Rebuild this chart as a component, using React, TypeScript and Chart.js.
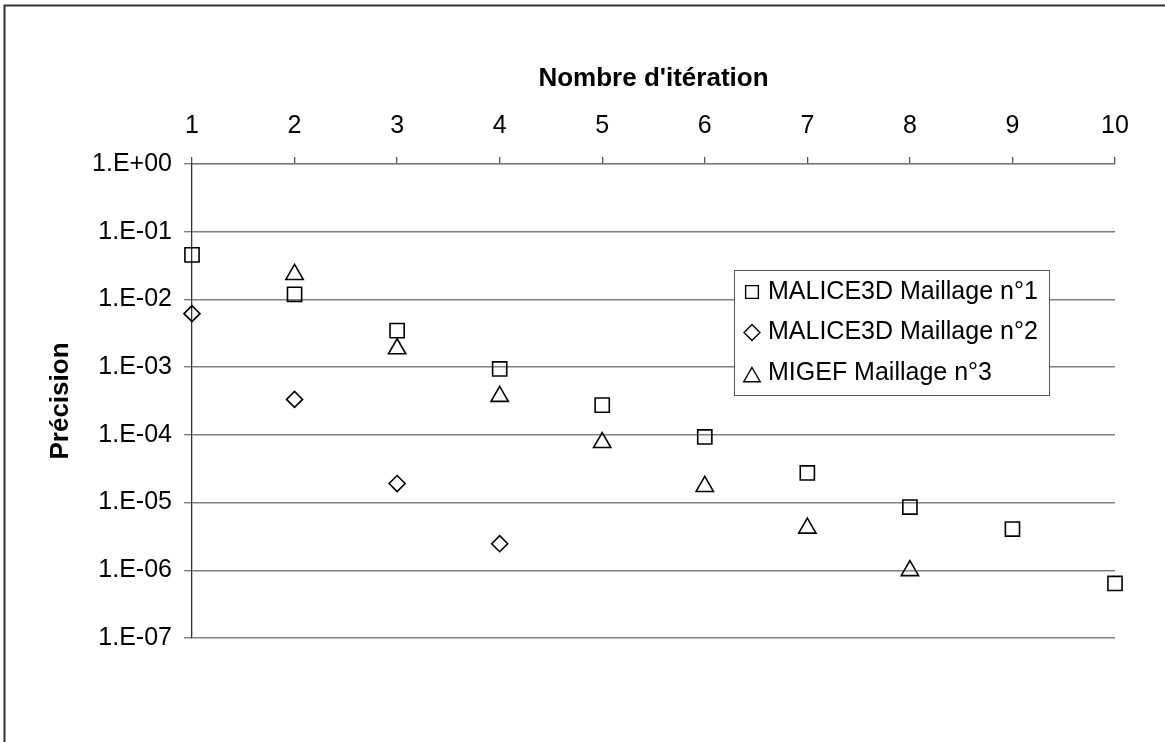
import React, { useEffect, useRef } from 'react';
import { Chart, registerables } from 'chart.js';
import { drawPoint } from 'chart.js/helpers';

Chart.register(...registerables);

const iterations = [1, 2, 3, 4, 5, 6, 7, 8, 9, 10];
const maillage1 = [0.0455, 0.0119, 0.00346, 0.00094, 0.000275, 0.000093, 0.0000274, 0.0000086, 0.00000407, 0.00000064];
const maillage2Iter = [1, 2, 3, 4];
const maillage2 = [0.00617, 0.000334, 0.0000191, 0.00000247];
const maillage3Iter = [2, 3, 4, 5, 6, 7, 8];
const maillage3 = [0.0234, 0.00187, 0.00037, 0.000077, 0.0000173, 0.0000042, 0.00000099];
const seriesLabels = ['MALICE3D Maillage n°1', 'MALICE3D Maillage n°2', 'MIGEF Maillage n°3'];
const yTickValues = [1, 1e-1, 1e-2, 1e-3, 1e-4, 1e-5, 1e-6, 1e-7];
const xTitle = "Nombre d'itération";
const yTitle = 'Précision';

const FONT = "'Liberation Sans', Arial, sans-serif";

function formatExp(v: number): string {
  const e = Math.round(Math.log10(v));
  const sign = e < 0 ? '-' : '+';
  return `1.E${sign}${String(Math.abs(e)).padStart(2, '0')}`;
}

const framePlugin = {
  id: 'frame',
  beforeDraw(chart: any) {
    const ctx = chart.ctx;
    ctx.save();
    ctx.fillStyle = '#ffffff';
    ctx.fillRect(0, 0, chart.width, chart.height);
    ctx.strokeStyle = '#333333';
    ctx.lineWidth = 2;
    ctx.strokeRect(4.5, 5.5, chart.width + 100, chart.height + 100);
    ctx.restore();
  },
};

const legendPlugin = {
  id: 'boxLegend',
  afterDraw(chart: any) {
    const ctx = chart.ctx;
    const bx = 734, by = 270, bw = 315, bh = 125;
    ctx.save();
    ctx.fillStyle = '#ffffff';
    ctx.fillRect(bx, by, bw, bh);
    ctx.strokeStyle = '#555555';
    ctx.lineWidth = 1;
    ctx.strokeRect(bx + 0.5, by + 0.5, bw, bh);
    chart.data.datasets.forEach((ds: any, i: number) => {
      const cy = 292 + i * 40.5;
      ctx.strokeStyle = '#000000';
      ctx.fillStyle = 'rgba(0,0,0,0)';
      ctx.lineWidth = 1.4;
      const r = ds.pointStyle === 'rect' ? 9 : ds.pointStyle === 'triangle' ? 9.5 : 8;
      drawPoint(ctx, { pointStyle: ds.pointStyle, radius: r, borderWidth: 1.4, rotation: 0 } as any, 752, cy + (ds.pointStyle === 'triangle' ? 4 : 0));
      ctx.fillStyle = '#000000';
      ctx.font = `25px ${FONT}`;
      ctx.textBaseline = 'middle';
      ctx.textAlign = 'left';
      ctx.fillText(ds.label, 768, cy);
    });
    ctx.restore();
  },
};

export default function App() {
  const canvasRef = useRef<HTMLCanvasElement | null>(null);

  useEffect(() => {
    if (!canvasRef.current) return;
    const mk = (xs: number[], ys: number[]) => xs.map((x, i) => ({ x, y: ys[i] }));
    const common = {
      showLine: false,
      borderColor: '#000000',
      backgroundColor: 'rgba(0,0,0,0)',
      pointBorderColor: '#000000',
      pointBackgroundColor: 'rgba(0,0,0,0)',
      pointBorderWidth: 1.6,
      clip: false as any,
    };
    const chart = new Chart(canvasRef.current, {
      type: 'scatter',
      data: {
        datasets: [
          { ...common, label: seriesLabels[0], data: mk(iterations, maillage1), pointStyle: 'rect', pointRadius: 10 },
          { ...common, label: seriesLabels[1], data: mk(maillage2Iter, maillage2), pointStyle: 'rectRot', pointRadius: 8 },
          { ...common, label: seriesLabels[2], data: mk(maillage3Iter, maillage3), pointStyle: 'triangle', pointRadius: 10 },
        ] as any,
      },
      options: {
        responsive: false,
        animation: false,
        devicePixelRatio: 1,
        layout: { padding: { left: 0, top: 0, right: 50, bottom: 104 } },
        plugins: {
          legend: { display: false },
          tooltip: { enabled: false },
        },
        scales: {
          x: {
            type: 'linear',
            position: 'top',
            min: 1,
            max: 10,
            ticks: {
              stepSize: 1,
              color: '#000000',
              font: { family: FONT, size: 25 },
              padding: 16,
              maxRotation: 0,
            },
            grid: {
              drawOnChartArea: false,
              drawTicks: true,
              tickLength: 7,
              color: '#555555',
              lineWidth: 1.3,
            },
            border: { display: true, color: '#777777', width: 1.3 },
            title: {
              display: true,
              text: xTitle,
              color: '#000000',
              font: { family: FONT, size: 26, weight: 'bold' },
              padding: { top: 63, bottom: 0 },
            },
            afterFit(scale: any) {
              scale.height = 164;
            },
          },
          y: {
            type: 'logarithmic',
            position: 'left',
            min: 1e-7,
            max: 1,
            afterBuildTicks(scale: any) {
              scale.ticks = yTickValues.map((v) => ({ value: v }));
            },
            ticks: {
              color: '#000000',
              font: { family: FONT, size: 25 },
              padding: 12,
              callback: (v: any) => formatExp(Number(v)),
            },
            grid: {
              drawOnChartArea: true,
              drawTicks: true,
              tickLength: 8,
              color: '#7f7f7f',
              lineWidth: 1.4,
            },
            border: { display: true, color: '#333333', width: 1.3 },
            title: {
              display: true,
              text: yTitle,
              color: '#000000',
              font: { family: FONT, size: 26, weight: 'bold' },
              padding: { top: 45, bottom: 0 },
            },
            afterFit(scale: any) {
              scale.width = 192;
            },
          },
        },
      } as any,
      plugins: [framePlugin, legendPlugin],
    });
    return () => chart.destroy();
  }, []);

  return (
    <div style={{ position: 'absolute', left: 0, top: 0, width: 1165, height: 742 }}>
      <canvas ref={canvasRef} width={1165} height={742} style={{ display: 'block' }} />
    </div>
  );
}
